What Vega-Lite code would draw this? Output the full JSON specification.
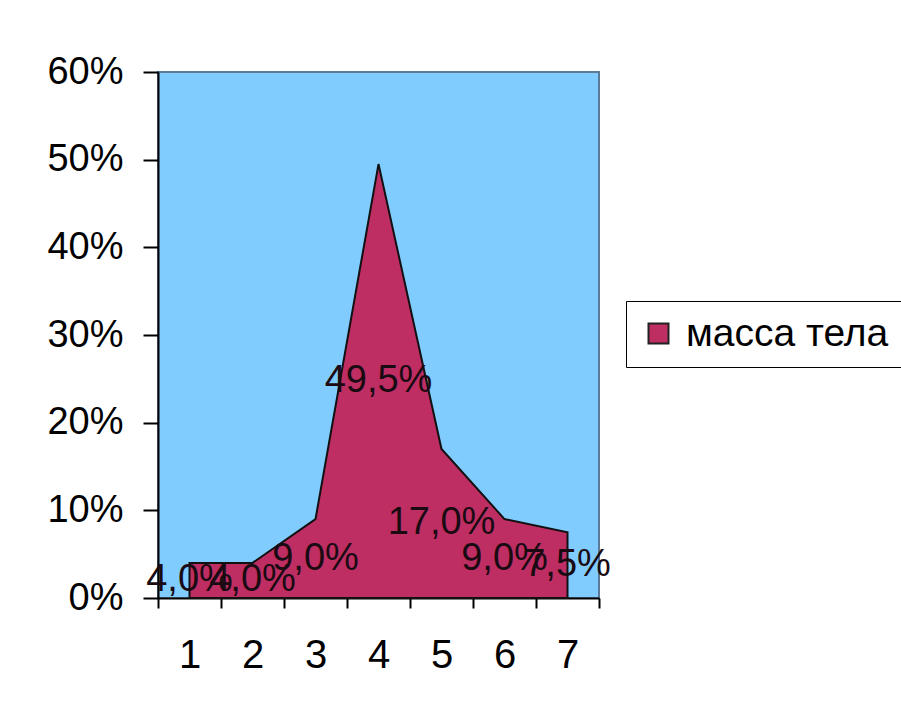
{
  "$schema": "https://vega.github.io/schema/vega-lite/v6.json",
  "width": 441,
  "height": 526,
  "autosize": {"type": "none"},
  "padding": {"left": 158, "top": 72, "right": 302, "bottom": 123},
  "background": "white",
  "data": {
    "values": [
      {"x": 1, "v": 0.04, "s": "масса тела"},
      {"x": 2, "v": 0.04, "s": "масса тела"},
      {"x": 3, "v": 0.09, "s": "масса тела"},
      {"x": 4, "v": 0.495, "s": "масса тела"},
      {"x": 5, "v": 0.17, "s": "масса тела"},
      {"x": 6, "v": 0.09, "s": "масса тела"},
      {"x": 7, "v": 0.075, "s": "масса тела"}
    ]
  },
  "layer": [
    {
      "mark": {"type": "area", "stroke": "#111111", "strokeWidth": 2, "interpolate": "linear", "opacity": 1},
      "encoding": {
        "x": {
          "field": "x", "type": "ordinal", "bandPosition": 0.5,
          "scale": {"type": "band", "paddingInner": 0, "paddingOuter": 0},
          "axis": {
            "tickBand": "extent",
            "tickColor": "black",
            "tickSize": 10, "tickWidth": 2,
            "domainColor": "black", "domainWidth": 2,
            "labelAngle": 0,
            "labelFont": "Liberation Sans", "labelFontSize": 40, "labelColor": "black",
            "labelPadding": 27, "labelOverlap": false,
            "grid": false, "title": null
          }
        },
        "y": {
          "field": "v", "type": "quantitative",
          "scale": {"domain": [0, 0.6], "nice": false},
          "axis": {
            "values": [0, 0.1, 0.2, 0.3, 0.4, 0.5, 0.6],
            "format": ".0%",
            "tickSize": 15, "tickWidth": 2, "tickColor": "black",
            "domainColor": "black", "domainWidth": 2,
            "labelFont": "Liberation Sans", "labelFontSize": 38, "labelColor": "black",
            "labelPadding": 20, "labelOverlap": false, "labelFlush": false,
            "grid": false, "title": null
          }
        },
        "color": {
          "field": "s", "type": "nominal",
          "scale": {"range": ["#BE2E63"]},
          "legend": {
            "orient": "none", "legendX": 468, "legendY": 229,
            "title": null,
            "fillColor": "white", "strokeColor": "black",
            "padding": 13,
            "symbolType": "square", "symbolSize": 400,
            "symbolStrokeColor": "#222222", "symbolStrokeWidth": 2,
            "labelFont": "Liberation Sans", "labelFontSize": 39, "labelColor": "black",
            "labelOffset": 8, "labelLimit": 400,
            "encode": {"legend": {"update": {"strokeWidth": {"value": 2}}}}
          }
        }
      }
    },
    {
      "mark": {"type": "text", "font": "Liberation Sans", "fontSize": 38, "baseline": "middle", "align": "center", "color": "#1a0a12"},
      "encoding": {
        "x": {"field": "x", "type": "ordinal", "bandPosition": 0.5},
        "y": {"field": "v", "type": "quantitative", "scale": {"domain": [0, 1.2], "nice": false}, "axis": null},
        "text": {"field": "v", "type": "quantitative", "format": ".1%"}
      }
    }
  ],
  "resolve": {"scale": {"y": "independent"}},
  "config": {
    "locale": {"number": {"decimal": ",", "thousands": " ", "grouping": [3], "currency": ["", ""]}},
    "view": {"fill": "#80CCFF", "stroke": "#5a7a95", "strokeWidth": 2}
  }
}
